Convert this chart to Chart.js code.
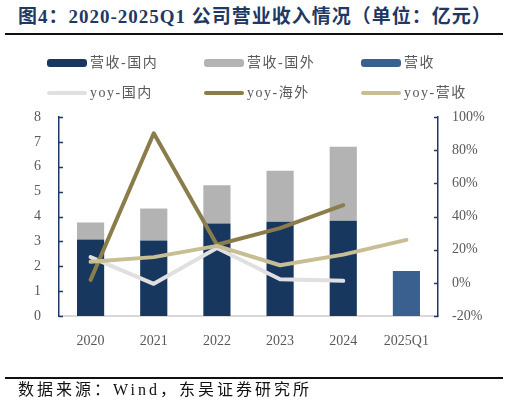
<!DOCTYPE html>
<html>
<head>
<meta charset="utf-8">
<script src="https://cdn.jsdelivr.net/npm/chart.js@4.4.1/dist/chart.umd.min.js"></script>
<style>
    html, body { margin: 0; padding: 0; background: #fff; }
    #wrap { position: relative; width: 509px; height: 402px; overflow: hidden; font-family: "Liberation Serif", "Noto Sans CJK SC", serif; }
    #title { position: absolute; left: 18px; top: 5px; font-size: 19px; font-weight: bold; color: #1f3864; white-space: nowrap; line-height: 24px; letter-spacing: 1px; }
    .rule { position: absolute; left: 5px; width: 498px; height: 2px; background: #111; }
    #source { position: absolute; left: 18px; top: 379px; font-size: 16px; color: #111; letter-spacing: 3px; white-space: nowrap; line-height: 22px; }
    #chart { position: absolute; left: 0; top: 0; }
    .lg { position: absolute; height: 20px; font-size: 14px; color: #595959; white-space: nowrap; letter-spacing: 1.5px; line-height: 20px; }
    .lg i { position: absolute; left: 0; width: 40px; border-radius: 3px; }
    .lg span { position: absolute; left: 43px; top: 0; }
</style>
</head>
<body>
<div id="wrap">
    <div id="title">图4：2020-2025Q1 公司营业收入情况（单位：亿元）</div>
    <div class="rule" style="top:33px"></div>
    <canvas id="chart" width="509" height="402"></canvas>
    <div id="legend"></div>
    <div class="rule" style="top:377px"></div>
    <div id="source">数据来源：Wind，东吴证券研究所</div>
</div>
<script>
    var categories = ['2020', '2021', '2022', '2023', '2024', '2025Q1'];

    // 亿元
    var revDomestic = [3.08, 3.04, 3.72, 3.79, 3.83, null];
    var revOverseas = [0.68, 1.28, 1.54, 2.05, 2.97, null];
    var revTotal = [null, null, null, null, null, 1.81];

    // %
    var yoyDomestic = [15.5, -0.6, 21.0, 2.2, 1.2, null];
    var yoyOverseas = [1.8, 90.2, 23.0, 33.0, 46.8, null];
    var yoyTotal = [12.7, 15.5, 22.3, 10.6, 17.0, 25.9];

    var leftTicks = { min: 0, max: 8, step: 1 };
    var rightTicks = { min: -20, max: 100, step: 20 };

    var tickFont = { family: 'Liberation Serif', size: 14 };
    var axisColor = '#1f3864';

    // small inward tick marks on both value axes
    var innerTicks = {
        id: 'innerTicks',
        afterDraw: function(chart) {
            var ctx = chart.ctx;
            ctx.save();
            ctx.strokeStyle = axisColor;
            ctx.lineWidth = 1.5;
            ['y', 'y1'].forEach(function(id) {
                var scale = chart.scales[id];
                var x = id === 'y' ? scale.right : scale.left;
                var dir = id === 'y' ? 1 : -1;
                scale.ticks.forEach(function(t) {
                    var py = Math.round(scale.getPixelForValue(t.value)) + 0.5;
                    ctx.beginPath();
                    ctx.moveTo(x, py);
                    ctx.lineTo(x + dir * 4, py);
                    ctx.stroke();
                });
            });
            ctx.restore();
        }
    };

    var chart = new Chart(document.getElementById('chart'), {
        type: 'bar',
        data: {
            labels: categories,
            datasets: [
                { label: '营收-国内', data: revDomestic, backgroundColor: '#17375e', order: 3, yAxisID: 'y' },
                { label: '营收-国外', data: revOverseas, backgroundColor: '#b3b3b3', order: 3, yAxisID: 'y' },
                { label: '营收', data: revTotal, backgroundColor: '#3a6090', order: 3, yAxisID: 'y' },
                { type: 'line', label: 'yoy-国内', data: yoyDomestic, borderColor: '#e0e0e0', backgroundColor: '#e0e0e0', order: 2, yAxisID: 'y1' },
                { type: 'line', label: 'yoy-海外', data: yoyOverseas, borderColor: '#8b7d4b', backgroundColor: '#8b7d4b', order: 1, yAxisID: 'y1' },
                { type: 'line', label: 'yoy-营收', data: yoyTotal, borderColor: '#c8be94', backgroundColor: '#c8be94', order: 0, yAxisID: 'y1' }
            ]
        },
        options: {
            responsive: false,
            animation: false,
            layout: { padding: { top: 117, left: 0, right: 0, bottom: 0 } },
            datasets: {
                bar: { barPercentage: 0.43, categoryPercentage: 1.0, borderWidth: 0 },
                line: { borderWidth: 4, pointRadius: 0, pointHoverRadius: 0, tension: 0, borderCapStyle: 'round', borderJoinStyle: 'round', fill: false }
            },
            plugins: {
                legend: { display: false },
                tooltip: { enabled: false }
            },
            scales: {
                x: {
                    stacked: true,
                    grid: { display: false },
                    border: { display: true, color: '#d9d9d9', width: 2 },
                    ticks: { color: '#595959', font: tickFont, padding: 9, maxRotation: 0 },
                    afterFit: function(scale) { scale.height = 86; }
                },
                y: {
                    stacked: true,
                    position: 'left',
                    min: leftTicks.min,
                    max: leftTicks.max,
                    grid: { display: false, drawTicks: false },
                    border: { display: true, color: axisColor, width: 1.5 },
                    ticks: { stepSize: leftTicks.step, color: '#595959', font: tickFont, padding: 18 },
                    afterFit: function(scale) { scale.width = 59; }
                },
                y1: {
                    position: 'right',
                    min: rightTicks.min,
                    max: rightTicks.max,
                    grid: { display: false, drawTicks: false },
                    border: { display: true, color: axisColor, width: 1.5 },
                    ticks: {
                        stepSize: rightTicks.step,
                        color: '#595959',
                        font: tickFont,
                        padding: 14,
                        callback: function(v) { return v + '%'; }
                    },
                    afterFit: function(scale) { scale.width = 71; }
                }
            }
        },
        plugins: [innerTicks]
    });

    // legend laid out in three fixed columns, built from the datasets
    var legendCols = [47, 204, 361];
    var legendRows = [53, 83];
    var legendBox = document.getElementById('legend');
    chart.data.datasets.forEach(function(ds, i) {
        var item = document.createElement('div');
        item.className = 'lg';
        item.style.left = legendCols[i % 3] + 'px';
        item.style.top = legendRows[Math.floor(i / 3)] + 'px';
        var sw = document.createElement('i');
        var isLine = ds.type === 'line';
        sw.style.height = (isLine ? 4 : 8) + 'px';
        sw.style.top = (isLine ? 8 : 6) + 'px';
        sw.style.background = isLine ? ds.borderColor : ds.backgroundColor;
        var txt = document.createElement('span');
        txt.textContent = ds.label;
        item.appendChild(sw);
        item.appendChild(txt);
        legendBox.appendChild(item);
    });
</script>
</body>
</html>
